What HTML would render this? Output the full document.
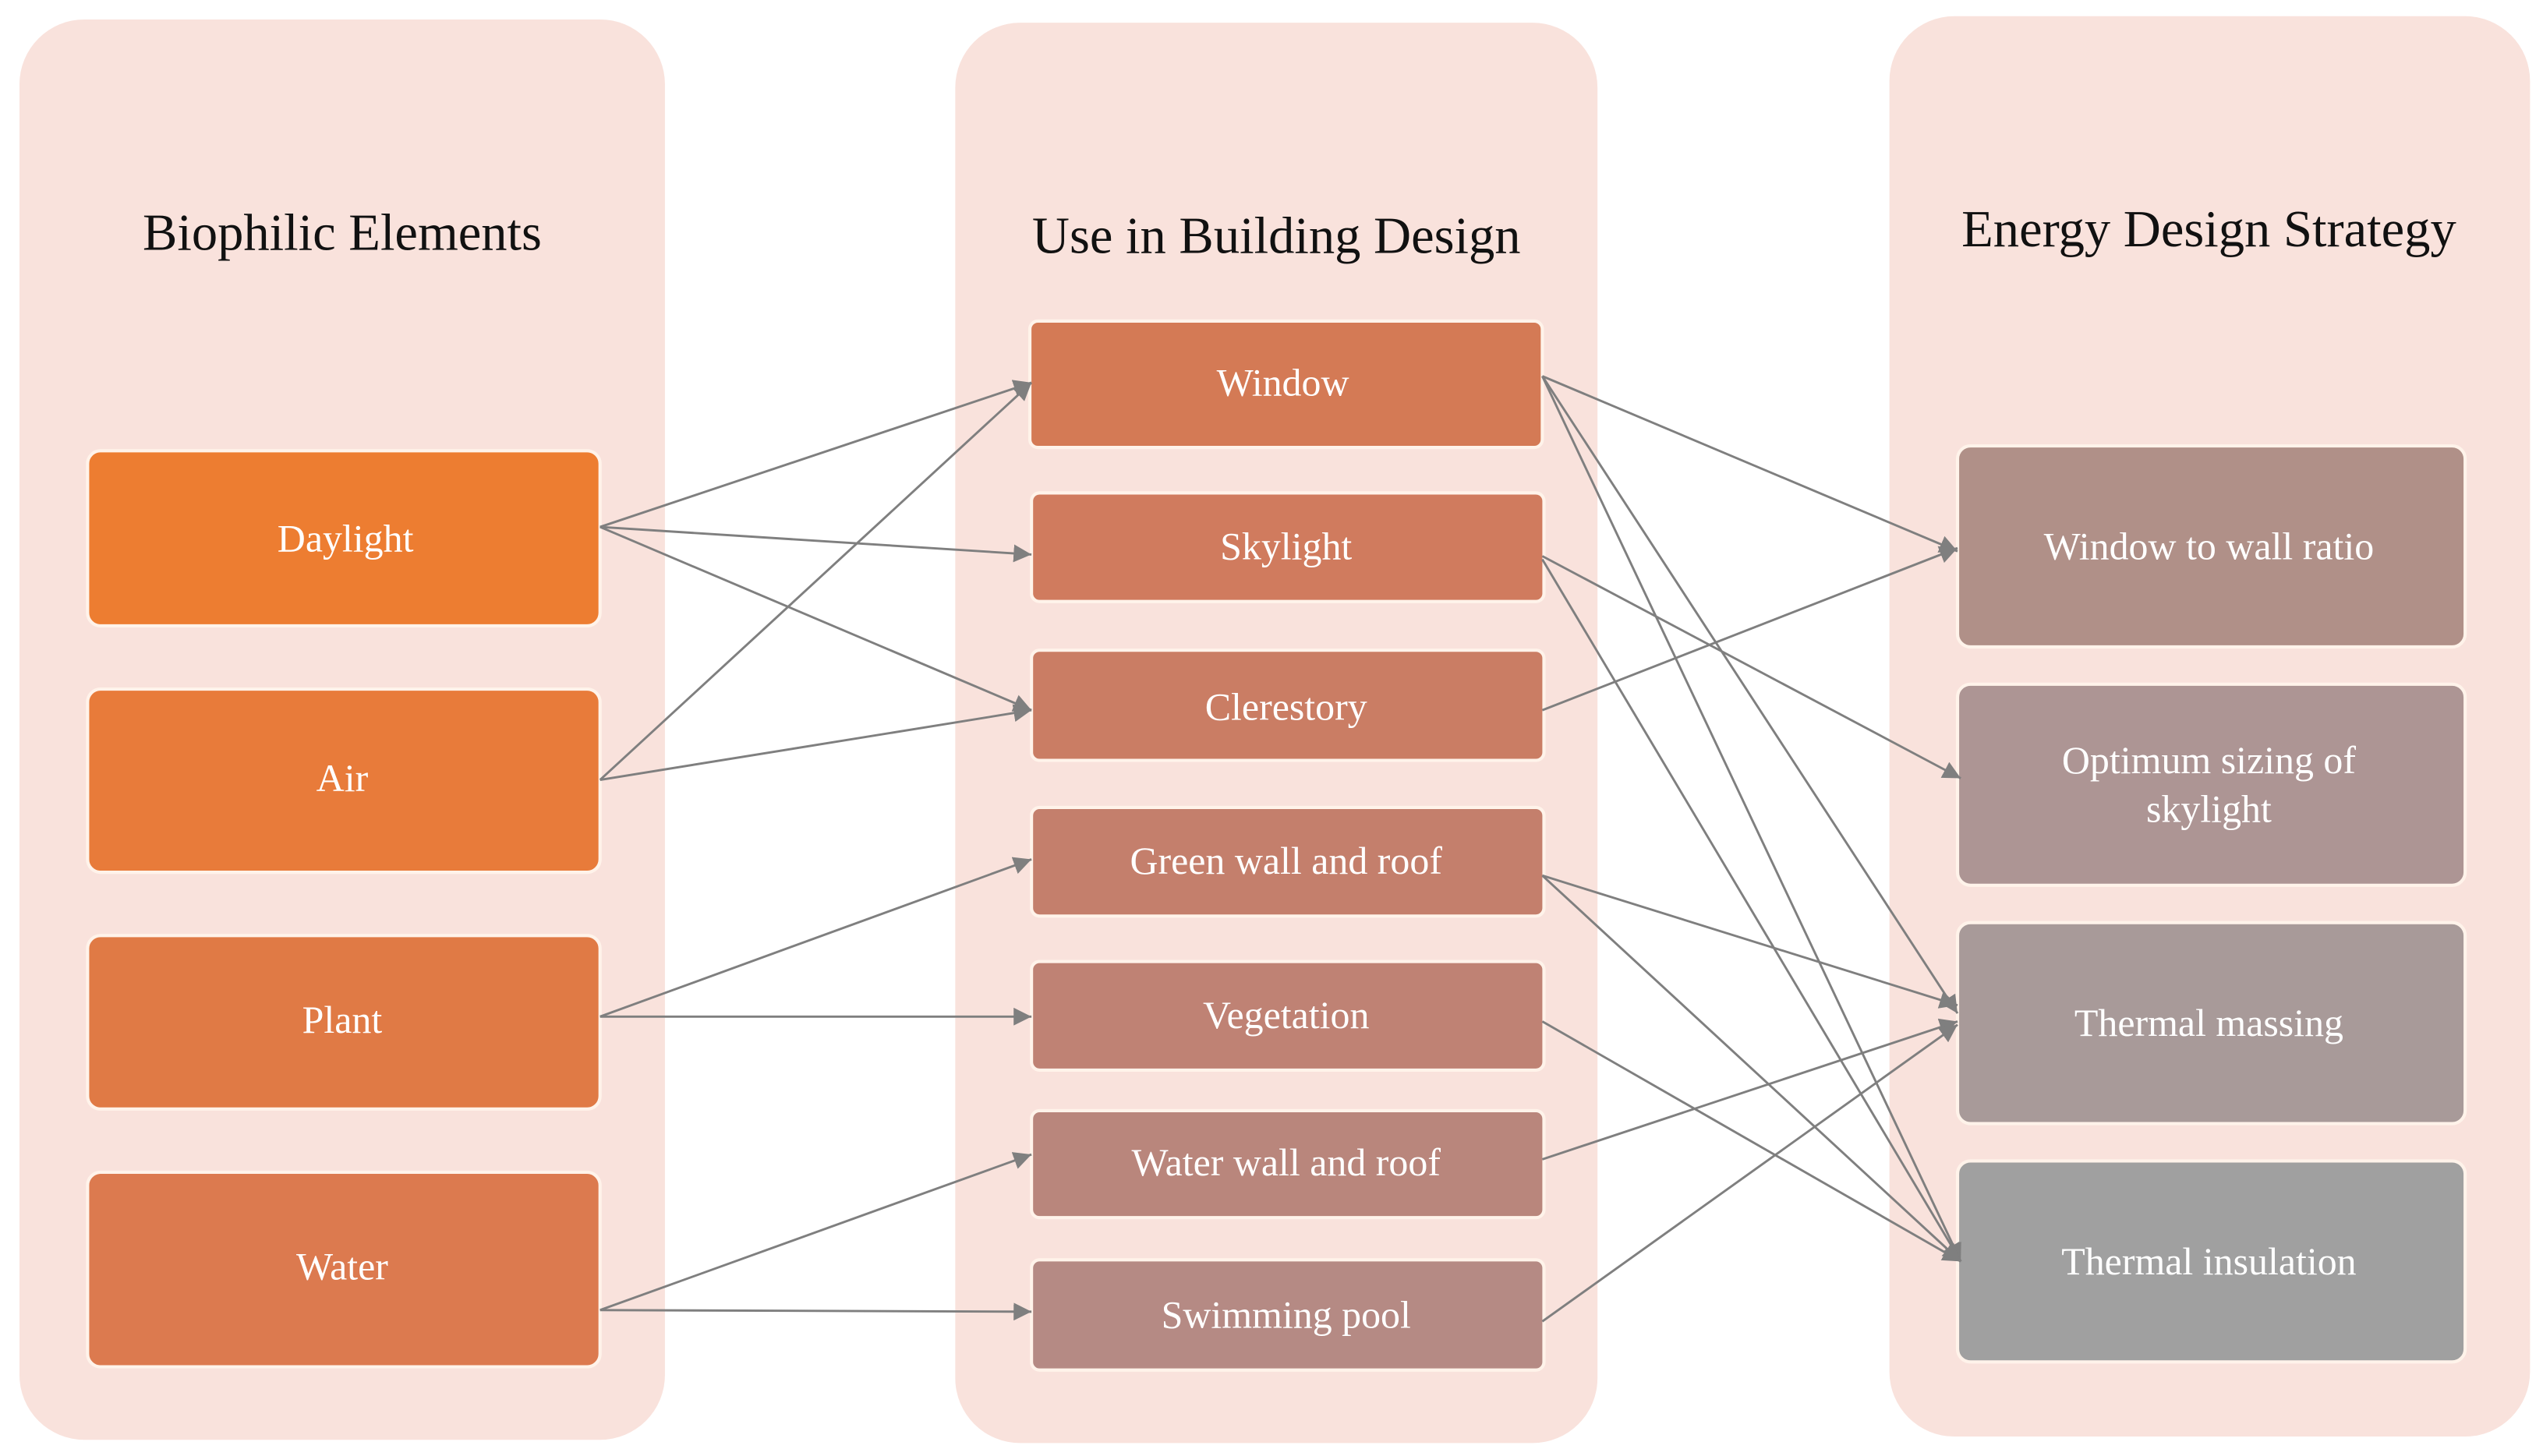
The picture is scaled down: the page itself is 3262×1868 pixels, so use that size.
<!DOCTYPE html>
<html><head><meta charset="utf-8"><style>
html,body{margin:0;padding:0;background:#fff}
svg{display:block}
text{font-family:"Liberation Serif",serif}
</style></head><body>
<svg width="3262" height="1868" viewBox="0 0 1568 898" preserveAspectRatio="none" xmlns="http://www.w3.org/2000/svg">
<defs>
<marker id="a" viewBox="0 0 10 10" refX="10" refY="5" markerWidth="11" markerHeight="11" markerUnits="userSpaceOnUse" orient="auto"><path d="M0,0 L10,5 L0,10 z" fill="#7f7f7f"/></marker>
</defs>
<rect x="12" y="12" width="398" height="876" rx="40" fill="#F9E2DC"/>
<rect x="589" y="14" width="396" height="876" rx="40" fill="#F9E2DC"/>
<rect x="1165" y="10" width="395" height="876" rx="40" fill="#F9E2DC"/>
<g font-size="32" fill="#111" text-anchor="middle">
<text x="211" y="154">Biophilic Elements</text>
<text x="787" y="156">Use in Building Design</text>
<text x="1362" y="152">Energy Design Strategy</text>
</g>
<g stroke="#fff3ea" stroke-width="2">
<rect x="54" y="278" width="316" height="108" rx="8" fill="#ED7D31"/>
<rect x="54" y="425" width="316" height="113" rx="8" fill="#E87B3A"/>
<rect x="54" y="577" width="316" height="107" rx="8" fill="#E07A45"/>
<rect x="54" y="723" width="316" height="120" rx="8" fill="#DC7A4F"/>
<rect x="635" y="198" width="316" height="78" rx="5" fill="#D47A55"/>
<rect x="636" y="304" width="316" height="67" rx="5" fill="#D07B5E"/>
<rect x="636" y="401" width="316" height="68" rx="5" fill="#CA7D64"/>
<rect x="636" y="498" width="316" height="67" rx="5" fill="#C47F6C"/>
<rect x="636" y="593" width="316" height="67" rx="5" fill="#BF8274"/>
<rect x="636" y="685" width="316" height="66" rx="5" fill="#B9867C"/>
<rect x="636" y="777" width="316" height="68" rx="5" fill="#B58A84"/>
<rect x="1207" y="275" width="313" height="124" rx="8" fill="#B09088"/>
<rect x="1207" y="422" width="313" height="124" rx="8" fill="#AD9594"/>
<rect x="1207" y="569" width="313" height="124" rx="8" fill="#A89A99"/>
<rect x="1207" y="716" width="313" height="124" rx="8" fill="#A0A0A0"/>
</g>
<g font-size="24" fill="#fff" text-anchor="middle">
<text x="213" y="340">Daylight</text>
<text x="211" y="488">Air</text>
<text x="211" y="637">Plant</text>
<text x="211" y="789">Water</text>
<text x="791" y="244">Window</text>
<text x="793" y="345">Skylight</text>
<text x="793" y="444">Clerestory</text>
<text x="793" y="539">Green wall and roof</text>
<text x="793" y="634">Vegetation</text>
<text x="793" y="725">Water wall and roof</text>
<text x="793" y="819">Swimming pool</text>
<text x="1362" y="345">Window to wall ratio</text>
<text x="1362" y="477">Optimum sizing of</text>
<text x="1362" y="507">skylight</text>
<text x="1362" y="639">Thermal massing</text>
<text x="1362" y="786">Thermal insulation</text>
</g>
<g stroke="#7f7f7f" stroke-width="1.4" fill="none" marker-end="url(#a)">
<line x1="370" y1="325" x2="636" y2="236"/>
<line x1="370" y1="325" x2="636" y2="342"/>
<line x1="370" y1="325" x2="636" y2="438"/>
<line x1="370" y1="481" x2="636" y2="236"/>
<line x1="370" y1="481" x2="636" y2="438"/>
<line x1="370" y1="627" x2="636" y2="530"/>
<line x1="370" y1="627" x2="636" y2="627"/>
<line x1="370" y1="808" x2="636" y2="712"/>
<line x1="370" y1="808" x2="636" y2="809"/>
<line x1="951" y1="232" x2="1207" y2="340"/>
<line x1="951" y1="232" x2="1207" y2="625"/>
<line x1="951" y1="232" x2="1209" y2="778"/>
<line x1="951" y1="343" x2="1209" y2="480"/>
<line x1="951" y1="345" x2="1209" y2="778"/>
<line x1="951" y1="438" x2="1207" y2="338"/>
<line x1="951" y1="540" x2="1207" y2="620"/>
<line x1="951" y1="540" x2="1209" y2="778"/>
<line x1="951" y1="630" x2="1209" y2="778"/>
<line x1="951" y1="715" x2="1207" y2="630"/>
<line x1="951" y1="815" x2="1207" y2="632"/>
</g>
</svg>
</body></html>
